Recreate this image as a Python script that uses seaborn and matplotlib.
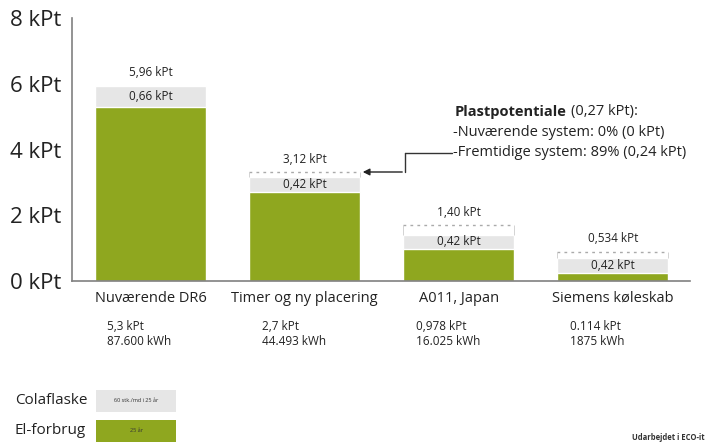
import matplotlib
matplotlib.use("Agg")
import matplotlib.pyplot as plt
import seaborn as sns
import pandas as pd
from matplotlib.patches import Rectangle

categories = ["Nuværende DR6", "Timer og ny placering", "A011, Japan", "Siemens køleskab"]
el_forbrug = [5.3, 2.7, 0.98, 0.25]          # green segment height (as drawn)
colaflaske = [0.64, 0.45, 0.42, 0.45]        # grey segment height (as drawn)
plast_line = [None, 3.31, 1.70, 0.88]        # dotted line level
total_labels = ["5,96 kPt", "3,12 kPt", "1,40 kPt", "0,534 kPt"]
grey_labels = ["0,66 kPt", "0,42 kPt", "0,42 kPt", "0,42 kPt"]
kpt_labels = ["5,3 kPt", "2,7 kPt", "0,978 kPt", "0.114 kPt"]
kwh_labels = ["87.600 kWh", "44.493 kWh", "16.025 kWh", "1875 kWh"]
yticks = [0, 2, 4, 6, 8]
ytick_labels = ["0 kPt", "2 kPt", "4 kPt", "6 kPt", "8 kPt"]

GREEN = "#8fa71f"
GREY = "#e6e6e6"
FONT = ["Open Sans", "DejaVu Sans"]
TXT = "#222222"

sns.set_style("white")
plt.rcParams["font.family"] = FONT

df = pd.DataFrame({
    "cat": categories,
    "total": [g + c for g, c in zip(el_forbrug, colaflaske)],
    "green": el_forbrug,
})

fig = plt.figure(figsize=(7.13, 4.46), dpi=100)
ax = fig.add_axes([72/713, 1-281/446, (690-72)/713, (281-18)/446])

sns.barplot(data=df, x="cat", y="total", color=GREY, width=0.72, ax=ax,
            saturation=1, order=categories)
sns.barplot(data=df, x="cat", y="green", color=GREEN, width=0.72, ax=ax,
            saturation=1, order=categories)

ax.set_xlim(-0.51, 3.5)
ax.set_ylim(0, 8)
ax.set_xlabel("")
ax.set_ylabel("")

for s in ["top", "right"]:
    ax.spines[s].set_visible(False)
for s in ["left", "bottom"]:
    ax.spines[s].set_color("#808080")
    ax.spines[s].set_linewidth(1.2)

ax.set_yticks(yticks)
ax.set_yticklabels(ytick_labels, fontsize=16, color=TXT)
ax.tick_params(axis="y", direction="in", length=11, width=1.2, color="#808080", pad=8)
ax.set_xticks([0.5, 1.5, 2.5, 3.5])
ax.set_xticklabels([])
ax.tick_params(axis="x", direction="in", length=4, width=1.2, color="#808080")

hw = 0.36
for i, cat in enumerate(categories):
    top = el_forbrug[i] + colaflaske[i]
    ax.text(i, el_forbrug[i] + colaflaske[i] / 2, grey_labels[i], ha="center",
            va="center", fontsize=8.5, color=TXT)
    lvl = plast_line[i]
    if lvl is not None:
        ax.hlines(lvl, i - hw, i + hw, colors="#aaaaaa", linestyles=(0, (2, 3)), lw=1)
        ax.vlines([i - hw, i + hw], top, lvl, colors="#cccccc", lw=0.6)
        ax.text(i, lvl + 0.2, total_labels[i], ha="center", va="bottom",
                fontsize=8.5, color=TXT)
    else:
        ax.text(i, top + 0.2, total_labels[i], ha="center", va="bottom",
                fontsize=8.5, color=TXT)
    ax.text(i, -0.52, cat, ha="center", va="center", fontsize=10.5, color=TXT)
    ax.text(i - 0.28, -1.37, kpt_labels[i], ha="left", va="center", fontsize=8.5,
            color=TXT)
    ax.text(i - 0.28, -1.85, kwh_labels[i], ha="left", va="center", fontsize=8.5,
            color=TXT)

# annotation
fig.canvas.draw()
r = fig.canvas.get_renderer()
t_bold = fig.text(455/713, 1-112/446, "Plastpotentiale", fontsize=10.5,
                  fontweight="bold", ha="left", va="center", color=TXT)
bb = t_bold.get_window_extent(renderer=r)
fig.text((bb.x1 + 4) / 713, 1-112/446, "(0,27 kPt):", fontsize=10.5, ha="left",
         va="center", color=TXT)
fig.text(453/713, 1-132/446, "-Nuværende system: 0% (0 kPt)", fontsize=10.5,
         ha="left", va="center", color=TXT)
fig.text(453/713, 1-153/446, "-Fremtidige system: 89% (0,24 kPt)", fontsize=10.5,
         ha="left", va="center", color=TXT)
fig.add_artist(plt.Line2D([405/713, 452/713], [1-153/446, 1-153/446],
                          color="#333333", lw=1))
fig.add_artist(plt.Line2D([405/713, 405/713], [1-153/446, 1-172/446],
                          color="#333333", lw=1))
ax.annotate("", xy=(360/713, 1-172/446), xytext=(405/713, 1-172/446),
            xycoords="figure fraction", textcoords="figure fraction",
            arrowprops=dict(arrowstyle="-|>", color=TXT, lw=1, mutation_scale=10))

# legend
fig.text(15/713, 1-401/446, "Colaflaske", fontsize=11, ha="left", va="center",
         color=TXT)
fig.text(15/713, 1-431/446, "El-forbrug", fontsize=11, ha="left", va="center",
         color=TXT)
fig.add_artist(Rectangle((96/713, 1-412/446), 80/713, 22/446, transform=fig.transFigure,
                         facecolor=GREY, edgecolor="none"))
fig.add_artist(Rectangle((96/713, 1-442/446), 80/713, 22/446, transform=fig.transFigure,
                         facecolor=GREEN, edgecolor="none"))
fig.text(136/713, 1-401/446, "60 stk./md i 25 år", fontsize=4, ha="center",
         va="center", color="#333333")
fig.text(136/713, 1-431/446, "25 år", fontsize=4, ha="center", va="center",
         color="#333333")
fig.text(705/713, 1-437/446, "Udarbejdet i ECO-it", fontsize=5.5, fontweight="bold",
         ha="right", va="center", color="#333333")

fig.savefig("out.png", dpi=100)
